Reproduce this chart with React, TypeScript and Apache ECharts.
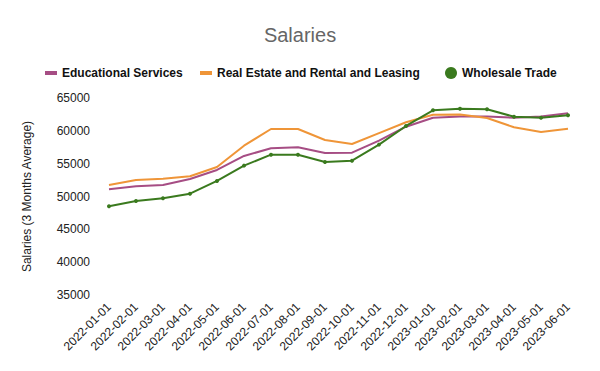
import React, { useEffect, useRef } from "react";
import * as echarts from "echarts";

const categories = [
  "2022-01-01", "2022-02-01", "2022-03-01", "2022-04-01", "2022-05-01", "2022-06-01",
  "2022-07-01", "2022-08-01", "2022-09-01", "2022-10-01", "2022-11-01", "2022-12-01",
  "2023-01-01", "2023-02-01", "2023-03-01", "2023-04-01", "2023-05-01", "2023-06-01",
];

const educational = [51100, 51560, 51760, 52670, 54040, 56170, 57340, 57500, 56630, 56670, 58500, 60630, 62000, 62200, 62200, 62000, 62200, 62670];
const realEstate = [51760, 52520, 52720, 53080, 54500, 57740, 60280, 60280, 58600, 58000, 59650, 61300, 62460, 62500, 61960, 60540, 59830, 60330];
const wholesale = [48500, 49320, 49730, 50430, 52370, 54700, 56370, 56370, 55260, 55460, 57900, 60740, 63130, 63370, 63280, 62150, 62000, 62370];

const FONT = "Liberation Sans";

export default function App() {
  const ref = useRef<HTMLDivElement>(null);
  useEffect(() => {
    if (!ref.current) return;
    const chart = echarts.init(ref.current, null, { renderer: "svg" });
    const legendText = { fontFamily: FONT, fontSize: 12, fontWeight: "bold", color: "#111" };
    chart.setOption({
      animation: false,
      backgroundColor: "#fff",
      title: {
        text: "Salaries",
        left: "center",
        top: 20,
        textStyle: { fontFamily: FONT, fontSize: 20, fontWeight: "normal", color: "#666" },
      },
      legend: [
        {
          data: [{ name: "Educational Services", icon: "rect" }],
          left: 40, top: 62, itemWidth: 12, itemHeight: 4, itemGap: 8,
          textStyle: legendText,
        },
        {
          data: [{ name: "Real Estate and Rental and Leasing", icon: "rect" }],
          left: 195, top: 62, itemWidth: 12, itemHeight: 4,
          textStyle: legendText,
        },
        {
          data: [{ name: "Wholesale Trade", icon: "circle" }],
          left: 440, top: 62, itemWidth: 12, itemHeight: 12,
          textStyle: legendText,
        },
      ],
      grid: { left: 109, right: 32, top: 98, bottom: 76, containLabel: false },
      xAxis: {
        type: "category",
        data: categories,
        boundaryGap: false,
        axisLine: { show: false },
        axisTick: { show: false },
        axisLabel: { rotate: 45, fontFamily: FONT, fontSize: 12, color: "#222", margin: 10, interval: 0 },
      },
      yAxis: {
        type: "value",
        min: 35000,
        max: 65000,
        interval: 5000,
        name: "Salaries (3 Months Average)",
        nameLocation: "middle",
        nameGap: 76,
        nameTextStyle: { fontFamily: FONT, fontSize: 12, color: "#222" },
        axisLine: { show: false },
        axisTick: { show: false },
        splitLine: { show: false },
        axisLabel: {
          fontFamily: FONT, fontSize: 12, color: "#222", margin: 19,
          formatter: (v: number) => String(v),
        },
      },
      series: [
        {
          name: "Educational Services",
          type: "line",
          data: educational,
          showSymbol: false,
          symbol: "none",
          lineStyle: { color: "#a64d84", width: 2 },
          itemStyle: { color: "#a64d84" },
        },
        {
          name: "Real Estate and Rental and Leasing",
          type: "line",
          data: realEstate,
          showSymbol: false,
          symbol: "none",
          lineStyle: { color: "#ef9538", width: 2 },
          itemStyle: { color: "#ef9538" },
        },
        {
          name: "Wholesale Trade",
          type: "line",
          data: wholesale,
          symbol: "circle",
          symbolSize: 4,
          lineStyle: { color: "#3a7a1e", width: 2 },
          itemStyle: { color: "#3a7a1e" },
        },
      ],
    });
    return () => chart.dispose();
  }, []);
  return (
    <div
      ref={ref}
      style={{ position: "absolute", left: 0, top: 0, width: 600, height: 371 }}
    />
  );
}
